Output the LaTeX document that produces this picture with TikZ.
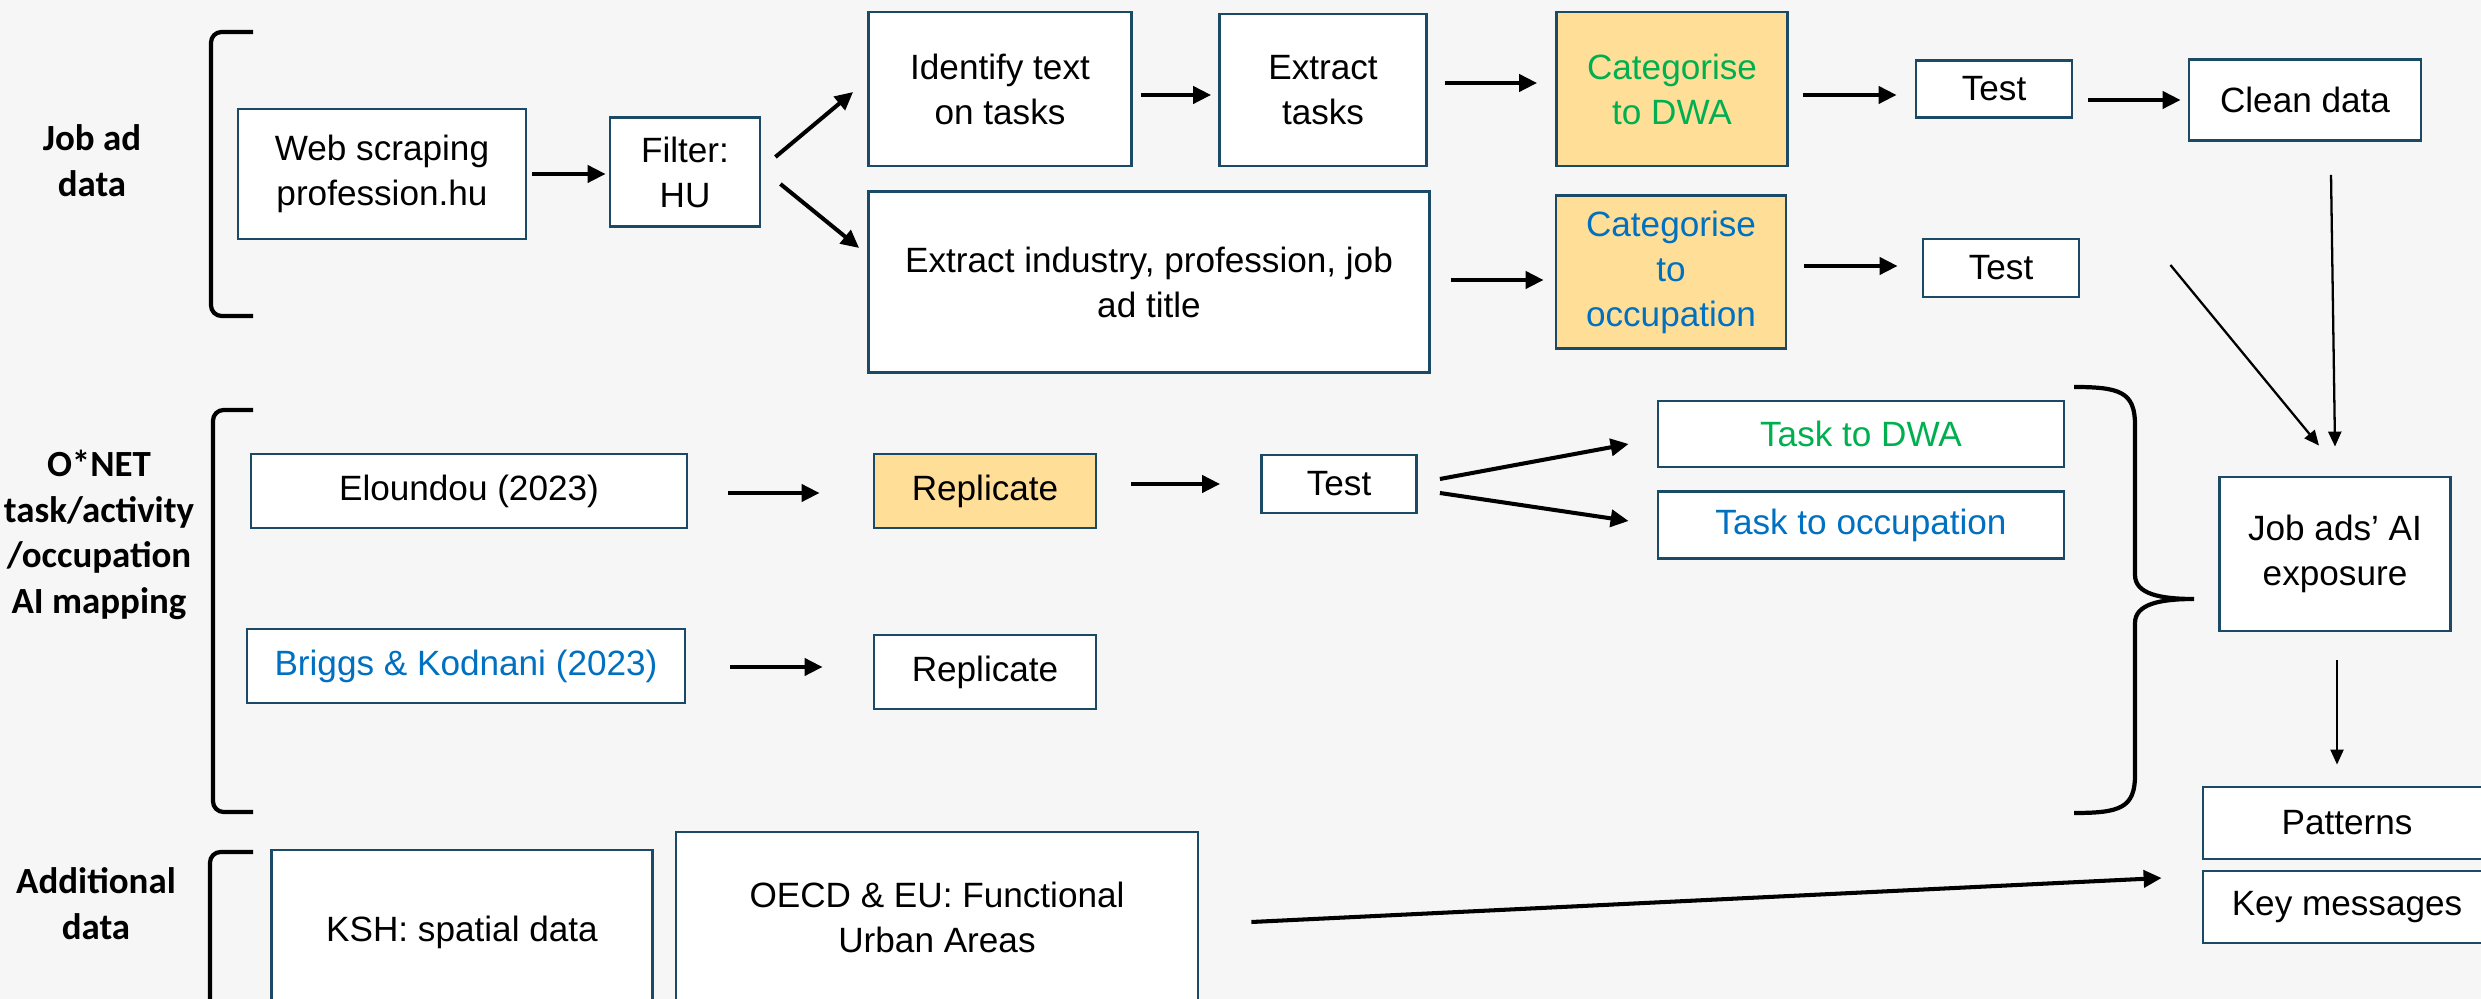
\documentclass[tikz,border=0pt]{standalone}
\usepackage{fontspec}
\setmainfont{Liberation Sans}
\newfontfamily\labelfont{Carlito}
\usetikzlibrary{positioning,calc,arrows.meta}
\definecolor{boxline}{HTML}{1A4A66}
\definecolor{hlfill}{HTML}{FFDE98}
\definecolor{dwagreen}{HTML}{00B050}
\definecolor{occblue}{HTML}{0070C0}
\definecolor{bgcol}{HTML}{F6F6F6}

\begin{document}
\begin{tikzpicture}[x=0.1mm, y=-0.1mm,
    every node/.style={align=center, font=\fontsize{10}{12.8}\selectfont},
    box/.style={rectangle, draw=boxline, line width=0.8pt, fill=white, inner sep=2pt},
    hl/.style={box, fill=hlfill},
    sz/.style 2 args={minimum width=#1, minimum height=#2},
    grp/.style={font=\labelfont\bfseries\fontsize{10.5}{13}\selectfont},
    arr/.style={-{Triangle[length=1.8mm,width=1.7mm]}, line width=1.15pt},
    tarr/.style={-{Triangle[length=1.5mm,width=1.3mm]}, line width=0.65pt},
    brk/.style={line width=1.2pt, rounded corners=3pt}]

    \useasboundingbox (0,0) rectangle (2481,999);
    \clip (0,0) rectangle (2481,999);
    \fill[bgcol] (0,0) rectangle (2481,999);

    % group labels and brackets
    \node[grp] (jobl) at (92,161) {Job ad\\data};
    \node[grp] (onetl) at (99,535) {O*NET\\task/activity\\/occupation\\AI mapping};
    \node[grp] (addl) at (96,904) {Additional\\data};
    \draw[brk] (253,32) -- (211,32) -- (211,316) -- (253,316);
    \draw[brk] (253,410) -- (213,410) -- (213,812) -- (253,812);
    \draw[brk] (253,852) -- (210,852) -- (210,1040);

    % job ad pipeline
    \node[box, sz={28.8mm}{13mm}] (web) at (382,174) {Web scraping\\profession.hu};
    \node[box, sz={15mm}{10.9mm}] (filter) at (685,172) {Filter:\\HU};
    \node[box, sz={26.3mm}{15.4mm}] (ident) at (1000,89) {Identify text\\on tasks};
    \node[box, sz={20.7mm}{15.2mm}] (extask) at (1323,90) {Extract\\tasks};
    \node[hl, sz={23.1mm}{15.4mm}, text=dwagreen] (catdwa) at (1672,89) {Categorise\\to DWA};
    \node[box, sz={15.6mm}{5.7mm}] (test1) at (1994,89) {Test};
    \node[box, sz={23.2mm}{8.1mm}] (clean) at (2305,100) {Clean data};
    \node[box, sz={56.1mm}{18.1mm}] (exind) at (1149,282) {Extract industry, profession, job\\ad title};
    \node[hl, sz={23mm}{15.3mm}, text=occblue] (catocc) at (1671,272) {Categorise\\to\\occupation};
    \node[box, sz={15.6mm}{5.8mm}] (test2) at (2001,268) {Test};

    % O*NET mapping
    \node[box, sz={43.6mm}{7.4mm}] (elo) at (469,491) {Eloundou (2023)};
    \node[hl, sz={22.2mm}{7.4mm}] (rep1) at (985,491) {Replicate};
    \node[box, sz={15.5mm}{5.8mm}] (test3) at (1339,484) {Test};
    \node[box, sz={40.6mm}{6.6mm}, text=dwagreen] (tdwa) at (1861,434) {Task to DWA};
    \node[box, sz={40.6mm}{6.7mm}, text=occblue] (tocc) at (1861,525) {Task to occupation};
    \node[box, sz={43.8mm}{7.4mm}, text=occblue] (briggs) at (466,666) {Briggs \& Kodnani (2023)};
    \node[box, sz={22.2mm}{7.4mm}] (rep2) at (985,672) {Replicate};

    % outputs
    \node[box, sz={23.1mm}{15.4mm}] (jobai) at (2335,554) {Job ads’ AI\\exposure};
    \node[box, sz={28.8mm}{7.2mm}] (patterns) at (2347,823) {Patterns};
    \node[box, sz={28.8mm}{7.2mm}] (keymsg) at (2347,907) {Key messages};

    % additional data
    \node[box, sz={38.1mm}{16.4mm}] (ksh) at (462,932) {KSH: spatial data};
    \node[box, sz={52.2mm}{17mm}] (oecd) at (937,917) {OECD \& EU: Functional\\Urban Areas};

    % connectors
    \draw[arr] ($(web.east)+(5,0)$) -- ($(filter.west)+(-3,2)$);
    \draw[arr] ($(filter.east)+(14,-15)$) -- ($(ident.west)+(-14,3)$);
    \draw[arr] ($(filter.east)+(19,12)$) -- ($(exind.west)+(-8,-34)$);
    \draw[arr] ($(ident.east)+(8,6)$) -- ($(extask.west)+(-7,5)$);
    \draw[arr] ($(extask.east)+(17,-7)$) -- ($(catdwa.west)+(-18,-6)$);
    \draw[arr] ($(exind.east)+(20,-2)$) -- ($(catocc.west)+(-11,8)$);
    \draw[arr] ($(catdwa.east)+(14,6)$) -- ($(test1.west)+(-18,6)$);
    \draw[arr] ($(catocc.east)+(17,-6)$) -- ($(test2.west)+(-24,-2)$);
    \draw[arr] ($(test1.east)+(15,11)$) -- ($(clean.west)+(-7,0)$);
    \draw[tarr] ($(clean.south)+(26,33)$) -- ($(jobai.north)+(0,-29)$);
    \draw[tarr] ($(test2.east)+(90,-3)$) -- ($(jobai.north)+(-16,-30)$);
    \draw[arr] ($(elo.east)+(40,2)$) -- ($(rep1.west)+(-53,2)$);
    \draw[arr] ($(briggs.east)+(44,1)$) -- ($(rep2.west)+(-50,-5)$);
    \draw[arr] ($(rep1.east)+(34,-7)$) -- ($(test3.west)+(-40,0)$);
    \draw[arr] ($(test3.east)+(22,-5)$) -- ($(tdwa.west)+(-28,10)$);
    \draw[arr] ($(test3.east)+(22,9)$) -- ($(tocc.west)+(-28,-4)$);
    \draw[tarr] ($(jobai.south)+(2,28)$) -- ($(patterns.north)+(-10,-21)$);
    \draw[arr] ($(oecd.east)+(52,5)$) -- ($(keymsg.west)+(-40,-29)$);

    % brace gathering the mappings
    \draw[line width=1.2pt] (2074,387) .. controls (2120,387) and (2135,392) .. (2135,425)
        -- (2135,575) .. controls (2135,594) and (2160,599) .. (2194,599)
        .. controls (2160,599) and (2135,604) .. (2135,623)
        -- (2135,775) .. controls (2135,808) and (2120,813) .. (2074,813);
\end{tikzpicture}
\end{document}
